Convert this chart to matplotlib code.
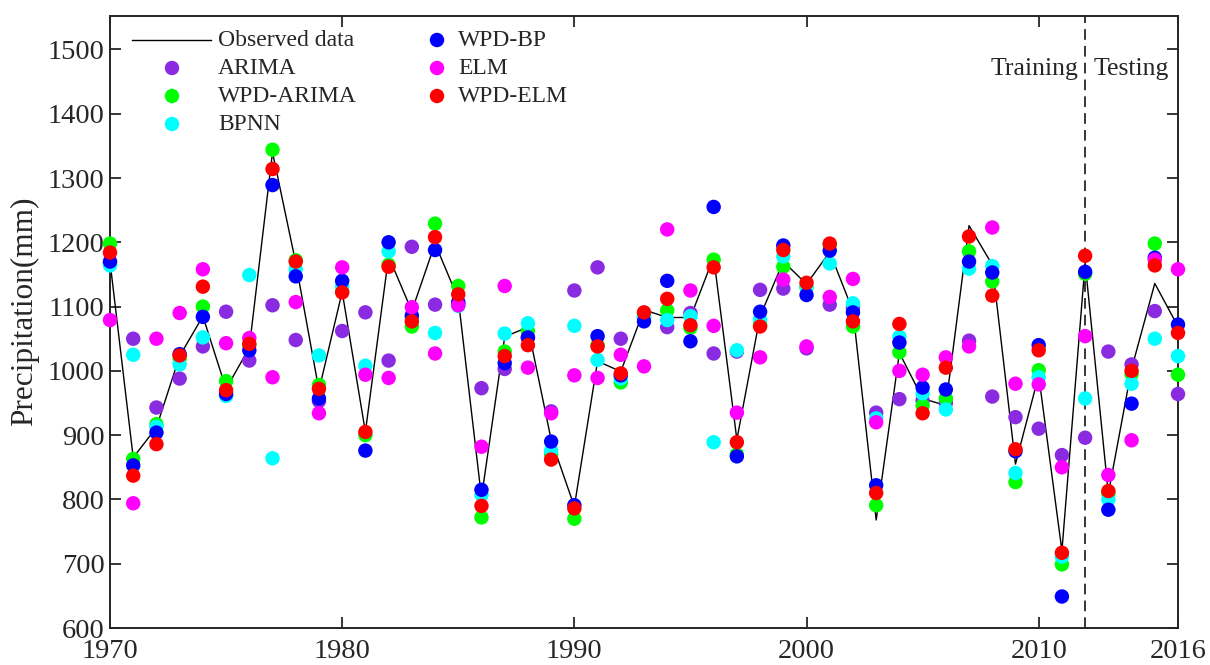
import matplotlib
matplotlib.use("Agg")
import matplotlib.pyplot as plt
import numpy as np

years = list(range(1970, 2017))

observed = [1170, 865, 912, 1023, 1085, 972, 1036, 1340, 1168, 970,
            1123, 905, 1178, 1093, 1198, 1112, 803, 1053, 1068, 893,
            789, 1015, 999, 1095, 1083, 1083, 1177, 893, 1085, 1170,
            1135, 1185, 1093, 768, 1028, 957, 946, 1226, 1165, 855,
            993, 720, 1168, 809, 1003, 1136, 1069]

arima = [1168, 1050, 943, 988, 1038, 1092, 1016, 1102, 1048, 953,
         1062, 1091, 1016, 1193, 1103, 1104, 973, 1003, 1052, 937,
         1125, 1161, 1050, 1083, 1068, 1090, 1027, 1030, 1126, 1128,
         1035, 1103, 1098, 935, 956, 954, 950, 1047, 960, 928,
         910, 869, 896, 1030, 1010, 1093, 964]

wpd_arima = [1198, 863, 917, 1019, 1100, 984, 1040, 1344, 1172, 978,
             1124, 900, 1165, 1069, 1229, 1132, 772, 1030, 1062, 870,
             770, 1040, 982, 1088, 1094, 1067, 1173, 870, 1072, 1162,
             1130, 1196, 1069, 791, 1029, 946, 957, 1186, 1139, 827,
             1001, 699, 1151, 809, 995, 1198, 994]

bpnn = [1164, 1025, 913, 1010, 1052, 961, 1149, 864, 1158, 1024,
        1132, 1008, 1186, 1083, 1059, 1101, 807, 1058, 1074, 876,
        1070, 1017, 988, 1085, 1079, 1085, 889, 1032, 1080, 1178,
        1131, 1167, 1105, 926, 1053, 965, 940, 1159, 1163, 841,
        990, 711, 957, 800, 980, 1050, 1023]

wpd_bp = [1170, 853, 904, 1026, 1084, 964, 1032, 1289, 1147, 957,
          1140, 876, 1200, 1086, 1188, 1107, 815, 1012, 1052, 890,
          791, 1054, 993, 1077, 1140, 1046, 1255, 867, 1092, 1195,
          1118, 1187, 1091, 822, 1044, 974, 971, 1170, 1153, 875,
          1040, 649, 1154, 784, 949, 1176, 1072]

elm = [1079, 794, 1050, 1090, 1158, 1043, 1051, 990, 1107, 934,
       1161, 994, 989, 1099, 1027, 1102, 882, 1132, 1005, 934,
       993, 989, 1025, 1007, 1220, 1125, 1070, 935, 1021, 1142,
       1038, 1115, 1143, 920, 1000, 994, 1021, 1038, 1223, 980,
       979, 850, 1054, 838, 892, 1173, 1158]

wpd_elm = [1184, 837, 886, 1024, 1131, 970, 1042, 1314, 1170, 972,
           1122, 905, 1162, 1077, 1208, 1119, 790, 1023, 1040, 862,
           786, 1038, 996, 1091, 1112, 1071, 1161, 889, 1069, 1188,
           1137, 1198, 1077, 810, 1073, 934, 1005, 1209, 1117, 878,
           1032, 717, 1179, 813, 1000, 1164, 1059]

series_names = ["ARIMA", "WPD-ARIMA", "BPNN", "WPD-BP", "ELM", "WPD-ELM"]
series_values = [arima, wpd_arima, bpnn, wpd_bp, elm, wpd_elm]
series_colors = ["#8A2BE2", "#00FF00", "#00FFFF", "#0000FF", "#FF00FF", "#FF0000"]

xticks = [1970, 1980, 1990, 2000, 2010, 2016]
yticks = list(range(600, 1501, 100))
split_year = 2012

plt.rcParams['font.family'] = ['Liberation Serif', 'DejaVu Serif']
txtc = "#262626"

W, H = 1210, 665
ax_l, ax_r, ax_t, ax_b = 110, 1178, 16, 628
fig = plt.figure(figsize=(W / 100, H / 100), dpi=100)
ax = fig.add_axes([ax_l / W, 1 - ax_b / H, (ax_r - ax_l) / W, (ax_b - ax_t) / H])

ax.plot(years, observed, color="black", lw=1.0, zorder=2)
for name, vals, c in zip(series_names, series_values, series_colors):
    ax.scatter(years, vals, s=108, color=c, edgecolors='none',
               zorder=3, clip_on=False)

ax.axvline(split_year, color="black", lw=1.1, ls=(0, (7, 4)), zorder=1)
ax.text(split_year - 0.3, 1470, "Training", ha="right", va="center",
        fontsize=18.5, color=txtc)
ax.text(split_year + 0.35, 1470, "Testing", ha="left", va="center",
        fontsize=18.5, color=txtc)

ax.set_xlim(1970, 2016)
ax.set_ylim(600, 1552)
ax.set_xticks(xticks)
ax.set_yticks(yticks)
ax.tick_params(direction="in", top=True, right=True, length=8, width=1.3,
               labelsize=20.5, colors=txtc, labelcolor=txtc)
ax.tick_params(axis="x", pad=8)
ax.tick_params(axis="y", pad=4)
for sp in ax.spines.values():
    sp.set_linewidth(1.4)
    sp.set_color(txtc)
ax.set_ylabel("Precipitation(mm)", fontsize=22.5, color=txtc)
ax.yaxis.set_label_coords(-0.066, 0.518)

# legend drawn by hand (two columns, no frame), positions in axes fraction
def fx(px):
    return (px - ax_l) / (ax_r - ax_l)

def fy(py):
    return (ax_b - py) / (ax_b - ax_t)

rows_px = [40, 68, 96, 124]
tr = ax.transAxes
# column 1
ax.plot([fx(132), fx(211)], [fy(rows_px[0])] * 2, color="black", lw=1.0,
        transform=tr, clip_on=False)
ax.text(fx(218), fy(rows_px[0]), "Observed data", transform=tr, fontsize=17,
        va="center", ha="left", color=txtc)
for i in range(3):
    ax.scatter([fx(172)], [fy(rows_px[i + 1])], s=108, color=series_colors[i],
               edgecolors='none', transform=tr, clip_on=False, zorder=4)
    ax.text(fx(218), fy(rows_px[i + 1]), series_names[i], transform=tr,
            fontsize=17, va="center", ha="left", color=txtc)
# column 2
for i in range(3):
    ax.scatter([fx(437)], [fy(rows_px[i])], s=108, color=series_colors[i + 3],
               edgecolors='none', transform=tr, clip_on=False, zorder=4)
    ax.text(fx(458), fy(rows_px[i]), series_names[i + 3], transform=tr,
            fontsize=17, va="center", ha="left", color=txtc)

fig.savefig("out.png", dpi=100)
